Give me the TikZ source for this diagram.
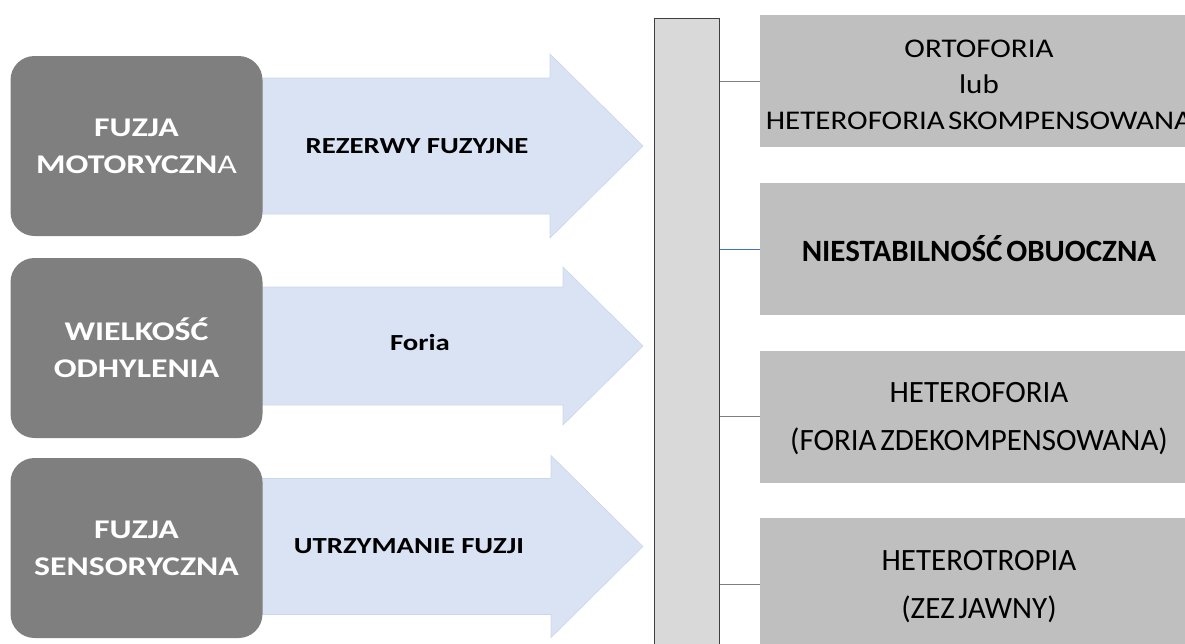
\documentclass[tikz,border=0pt]{standalone}
\usepackage{fontspec}
\setmainfont{Carlito}
\newfontfamily\widesans[FakeStretch=1.25]{Carlito}
\newfontfamily\semiwidesans[FakeStretch=1.15]{Carlito}
\newcommand\tightspaces{\spaceskip=0.12em\relax}
\begin{document}
\begin{tikzpicture}[x=1pt,y=-1pt,
  srcbox/.style={draw=none,fill=gray50,rounded corners=24pt,minimum width=252pt,minimum height=180pt,
    inner sep=0pt,align=center,text=white,font={\widesans\fontsize{27}{37}\selectfont\bfseries}},
  flowarrow/.style={fill=arrowblue,draw=arrowedge,line width=0.6pt},
  flowlabel/.style={font={\widesans\fontsize{23}{28}\selectfont\bfseries},text=black},
  outbox/.style={draw=none,fill=gray75,minimum width=438pt,minimum height=132pt,inner sep=0pt},
  outtext/.style={inner sep=0pt,align=center,font={\fontsize{31}{48}\selectfont\tightspaces}},
  link/.style={draw=linkgray,line width=1pt}]
\definecolor{gray50}{HTML}{7F7F7F}
\definecolor{gray75}{HTML}{BFBFBF}
\definecolor{gray85}{HTML}{D9D9D9}
\definecolor{arrowblue}{HTML}{DAE3F3}
\definecolor{arrowedge}{HTML}{CCD6EA}
\definecolor{linkgray}{HTML}{7F7F7F}
\definecolor{linkblue}{HTML}{4472C4}
\useasboundingbox (0,0) rectangle (1185,643);
\begin{scope}
\clip (0,0) rectangle (1185,643);

% wide arrows carrying the criteria: centre / body half-height / head half-height / head base
\foreach \c/\b/\h/\x in {146/68/92/550, 346/59/79/563, 546.5/68/91/551}{
  \path[flowarrow] (255,\c-\b) -- (\x,\c-\b) -- (\x,\c-\h) -- (643,\c) -- (\x,\c+\h)
    -- (\x,\c+\b) -- (255,\c+\b) -- cycle;
}

% source boxes
\node[srcbox] (s1) at (136.5,146) {FUZJA\\MOTORYCZN{\mdseries A}};
\node[srcbox] (s2) at (136.5,348) {WIELKOŚĆ\\ODHYLENIA};
\node[srcbox] (s3) at (136.5,548) {FUZJA\\SENSORYCZNA};

\node[flowlabel] (a1) at (417,146) {REZERWY FUZYJNE};
\node[flowlabel] (a2) at (420,343) {Foria};
\node[flowlabel] (a3) at (409,546) {UTRZYMANIE FUZJI};

% vertical collector bar
\node[draw=black!75,fill=gray85,line width=1pt,minimum width=65pt,minimum height=640pt,inner sep=0pt,anchor=north west] (bar) at (654,18) {};

% outcome boxes and their texts
\node[outbox] (r1) at (979,81) {};
\node[outbox] (r2) at (979,249) {};
\node[outbox] (r3) at (979,416.5) {};
\node[outbox] (r4) at (979,584) {};

\node[outtext,font={\semiwidesans\fontsize{27}{36}\selectfont\tightspaces}] (t1) at (979,84.5) {ORTOFORIA\\lub\\HETEROFORIA SKOMPENSOWANA};
\node[outtext,font={\fontsize{31}{48}\selectfont\bfseries\tightspaces}] (t2) at (979,249) {NIESTABILNOŚĆ OBUOCZNA};
\node[outtext] (t3) at (979,418.5) {HETEROFORIA\\(FORIA ZDEKOMPENSOWANA)};
\node[outtext] (t4) at (979,587) {HETEROTROPIA\\(ZEZ JAWNY)};

% connectors from the bar
\draw[link] (bar.east |- r1.west) -- (r1.west);
\draw[link,draw=linkblue] (bar.east |- r2.west) -- (r2.west);
\draw[link] (bar.east |- r3.west) -- (r3.west);
\draw[link] (bar.east |- r4.west) -- (r4.west);
\end{scope}
\end{tikzpicture}
\end{document}
